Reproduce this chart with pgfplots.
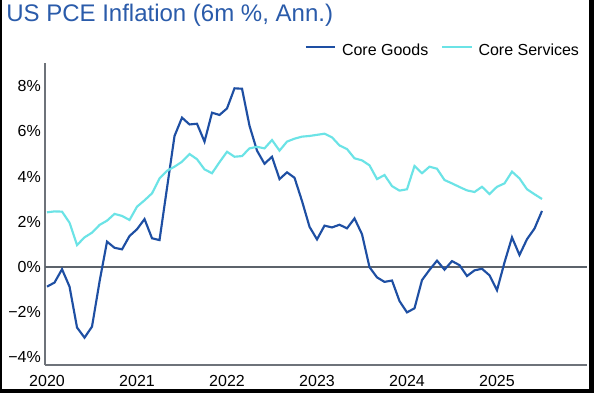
\documentclass[border=0pt]{standalone}
\usepackage{pgfplots}
\pgfplotsset{compat=1.18}
\usepackage{fontspec}
\setmainfont{Liberation Sans}
\definecolor{goods}{HTML}{1E4FA3}
\definecolor{serv}{HTML}{6BE3E6}
\definecolor{ttl}{HTML}{2A5BAA}
\definecolor{axgray}{HTML}{6E737A}
\definecolor{zgray}{HTML}{5C636B}
\begin{document}
\begin{tikzpicture}[x=0.75pt,y=0.75pt]
\useasboundingbox (0,0) rectangle (594,393);
\fill[white] (0,0) rectangle (594,393);
\node[anchor=base west,inner sep=0pt,font=\fontsize{18}{20}\selectfont,text=ttl] at (6,371.3) {US PCE Inflation (6m \%, Ann.)};
\begin{axis}[
  at={(33.75pt,21pt)}, anchor=south west,
  scale only axis, width=406.5pt, height=226.5pt,
  xmin=-0.27, xmax=72, ymin=-4.34, ymax=9.03,
  axis lines*=left,
  axis line style={axgray, line width=0.9pt},
  tick style={draw=none},
  xtick={0,12,24,36,48,60},
  xticklabels={2020,2021,2022,2023,2024,2025},
  ytick={-4,-2,0,2,4,6,8},
  yticklabels={−4\%,−2\%,0\%,2\%,4\%,6\%,8\%},
  ticklabel style={font=\fontsize{12}{14}\selectfont, text=black},
  xticklabel style={inner sep=0pt, anchor=north, yshift=-7.5pt},
  yticklabel style={inner sep=0pt, anchor=east, xshift=-3pt},
  legend columns=2,
  legend style={draw=none, fill=none, inner sep=0pt, outer sep=0pt,
    at={(axis description cs:1,1)}, anchor=south east, xshift=-6pt, yshift=4pt,
    font=\fontsize{12}{14}\selectfont,
    nodes={inner sep=0pt},
    /tikz/every odd column/.append style={column sep=4.3pt},
    /tikz/every even column/.append style={column sep=9.75pt}},
  legend image code/.code={\draw[#1] (0pt,3pt) -- (22pt,3pt);},
  clip=false,
]
\draw[zgray, line width=1.5pt] (axis cs:-0.27,0) -- (axis cs:72,0);
\addplot[goods, line width=1.6pt] coordinates {
(0,-0.87)(1,-0.69)(2,-0.10)(3,-0.87)(4,-2.68)(5,-3.13)(6,-2.64)(7,-0.65)(8,1.12)(9,0.85)
(10,0.78)(11,1.37)(12,1.67)(13,2.12)(14,1.27)(15,1.19)(16,3.5)(17,5.80)(18,6.61)(19,6.31)
(20,6.34)(21,5.55)(22,6.83)(23,6.73)(24,7.02)(25,7.91)(26,7.89)(27,6.25)(28,5.15)(29,4.57)
(30,4.88)(31,3.89)(32,4.19)(33,3.95)(34,2.92)(35,1.78)(36,1.22)(37,1.83)(38,1.75)(39,1.87)
(40,1.71)(41,2.15)(42,1.45)(43,-0.01)(44,-0.46)(45,-0.66)(46,-0.60)(47,-1.51)(48,-2.01)(49,-1.83)
(50,-0.58)(51,-0.13)(52,0.28)(53,-0.12)(54,0.26)(55,0.08)(56,-0.40)(57,-0.15)(58,-0.08)(59,-0.37)
(60,-1.03)(61,0.2)(62,1.31)(63,0.53)(64,1.23)(65,1.70)(66,2.48)
};
\addlegendentry{Core Goods}
\addplot[serv, line width=1.6pt] coordinates {
(0,2.42)(1,2.46)(2,2.45)(3,1.96)(4,0.97)(5,1.31)(6,1.52)(7,1.86)(8,2.05)(9,2.35)
(10,2.26)(11,2.08)(12,2.67)(13,2.95)(14,3.26)(15,3.92)(16,4.26)(17,4.44)(18,4.66)(19,5.0)
(20,4.77)(21,4.32)(22,4.15)(23,4.64)(24,5.10)(25,4.88)(26,4.91)(27,5.25)(28,5.32)(29,5.25)
(30,5.62)(31,5.15)(32,5.55)(33,5.68)(34,5.77)(35,5.80)(36,5.85)(37,5.90)(38,5.74)(39,5.38)
(40,5.22)(41,4.81)(42,4.72)(43,4.50)(44,3.89)(45,4.07)(46,3.58)(47,3.38)(48,3.44)(49,4.47)
(50,4.15)(51,4.44)(52,4.35)(53,3.85)(54,3.70)(55,3.54)(56,3.39)(57,3.32)(58,3.55)(59,3.23)
(60,3.55)(61,3.70)(62,4.22)(63,3.92)(64,3.44)(65,3.22)(66,3.01)
};
\addlegendentry{Core Services}
\end{axis}
\fill[black] (0,0) rectangle (2.5,393);
\fill[black] (589,0) rectangle (594,393);
\fill[black] (0,0) rectangle (594,4);
\end{tikzpicture}
\end{document}
